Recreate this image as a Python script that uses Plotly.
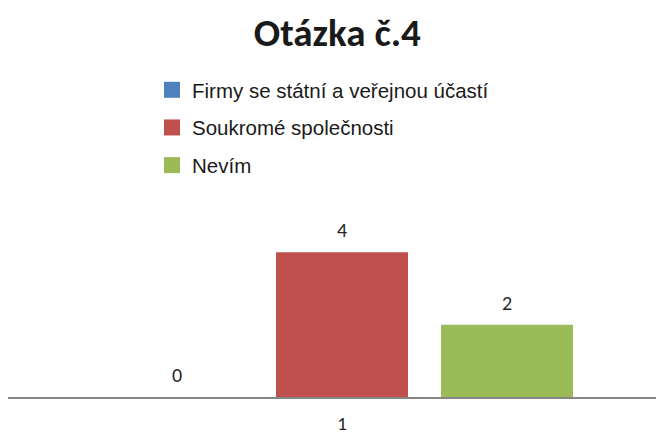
import plotly.graph_objects as go

categories = ["1"]
series_names = ["Firmy se státní a veřejnou účastí", "Soukromé společnosti", "Nevím"]
series_values = [[0], [4], [2]]
series_colors = ["#4F81BD", "#C0504D", "#9BBB59"]
title_text = "Otázka č.4"

BARGAP = 0.259
BARGROUPGAP = 0.2
NUM_FONT = "Carlito, Lato, Open Sans, sans-serif"
LEG_FONT = "Liberation Sans, Arial, sans-serif"

fig = go.Figure()
for name, vals, col in zip(series_names, series_values, series_colors):
    fig.add_trace(go.Bar(x=categories, y=vals, name=name, marker_color=col,
                         marker_line_width=0, showlegend=False, hoverinfo="skip"))
# legend proxies with larger square symbols
for name, col in zip(series_names, series_colors):
    fig.add_trace(go.Scatter(x=[None], y=[None], mode="markers", name=name,
                             marker=dict(symbol="square", size=16, color=col),
                             legendgroup=name, showlegend=True))

n = len(series_names)
slot = (1 - BARGAP) / n
annotations = []
for i, vals in enumerate(series_values):
    for ci, v in enumerate(vals):
        annotations.append(dict(x=ci + (i - (n - 1) / 2) * slot, y=v, xref="x", yref="y",
                                text=str(v), showarrow=False, yanchor="bottom", yshift=8,
                                font=dict(family=NUM_FONT, size=20, color="#262626")))

fig.update_layout(
    width=664, height=434,
    margin=dict(l=0, r=8, t=172, b=45, autoexpand=False),
    paper_bgcolor="white", plot_bgcolor="white",
    barmode="group", bargap=BARGAP, bargroupgap=BARGROUPGAP,
    title=dict(text="<b>" + title_text + "</b>", x=0.496, xanchor="center",
               y=0.943, yanchor="middle", xref="container", yref="container",
               font=dict(family=NUM_FONT, size=39, color="#1a1a1a")),
    legend=dict(x=0.2195, y=1.507, xanchor="left", yanchor="top",
                orientation="v", font=dict(family=LEG_FONT, size=20.5, color="#1a1a1a"),
                tracegroupgap=8, bgcolor="rgba(0,0,0,0)"),
    annotations=annotations,
    xaxis=dict(type="category", range=[-0.5, 0.482], showline=True, linecolor="#868686",
               linewidth=2, showgrid=False, zeroline=False, ticks="outside", ticklen=8,
               tickcolor="rgba(0,0,0,0)",
               tickfont=dict(family=NUM_FONT, size=19, color="#262626")),
    yaxis=dict(range=[0, 6], visible=False, showgrid=False, zeroline=False),
)

fig.write_html("out.html")
